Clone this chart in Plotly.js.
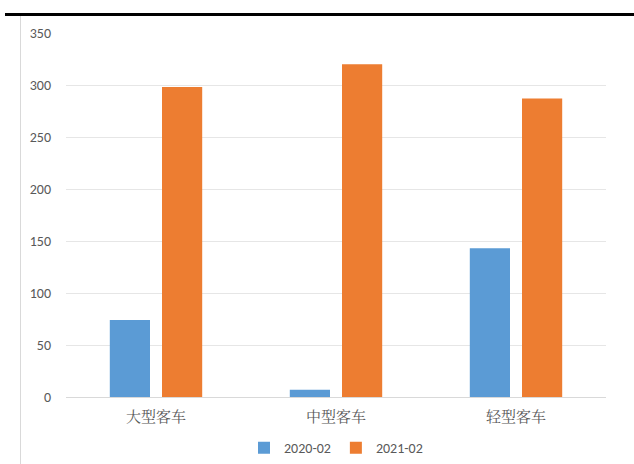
<!DOCTYPE html>
<html>
<head>
<meta charset="utf-8">
<script src="https://cdn.plot.ly/plotly-3.0.1.min.js"></script>
<style>
  body { margin: 0; background: #fff; }
  #topline { position: absolute; left: 5px; top: 13px; width: 629px; height: 3px; background: #000; }
  #leftline { position: absolute; left: 20px; top: 16px; width: 1px; height: 448px; background: #d9d9d9; }
  #chart { position: absolute; left: 0; top: 0; width: 634px; height: 464px; }
</style>
</head>
<body>
<div id="chart"></div>
<div id="topline"></div>
<div id="leftline"></div>
<script>
const categories = ['大型客车', '中型客车', '轻型客车'];
const series2020 = [74, 7, 143];
const series2021 = [298, 320, 287];

const font = 'Calibri, "Liberation Sans", "Noto Sans CJK SC", sans-serif';

const traces = [
  { x: categories, y: series2020, type: 'bar', name: '2020-02', marker: { color: '#5b9bd5' } },
  { x: categories, y: series2021, type: 'bar', name: '2021-02', marker: { color: '#ed7d31' } }
];

const layout = {
  width: 634, height: 464,
  margin: { l: 66, r: 28, t: 33, b: 67, autoexpand: false },
  paper_bgcolor: 'rgba(0,0,0,0)',
  plot_bgcolor: '#fff',
  barmode: 'group',
  bargap: 0.42,
  bargroupgap: 0.23,
  font: { family: font, size: 14, color: '#595959' },
  showlegend: true,
  legend: { orientation: 'h', x: 0.5, xanchor: 'center', yref: 'container', y: 0.034, yanchor: 'middle', font: { size: 14 }, itemwidth: 30 },
  xaxis: {
    tickfont: { family: '"Noto Serif CJK SC", "Noto Sans CJK SC", serif', size: 15, color: '#595959' },
    showline: true, linecolor: '#d9d9d9', ticks: '', ticklabelstandoff: 6
  },
  yaxis: {
    range: [0, 350], dtick: 50, gridcolor: '#e6e6e6', zeroline: false,
    tickfont: { size: 14, color: '#595959' }, ticklabelstandoff: 14
  }
};

Plotly.newPlot('chart', traces, layout, { displayModeBar: false, staticPlot: true });
</script>
</body>
</html>
